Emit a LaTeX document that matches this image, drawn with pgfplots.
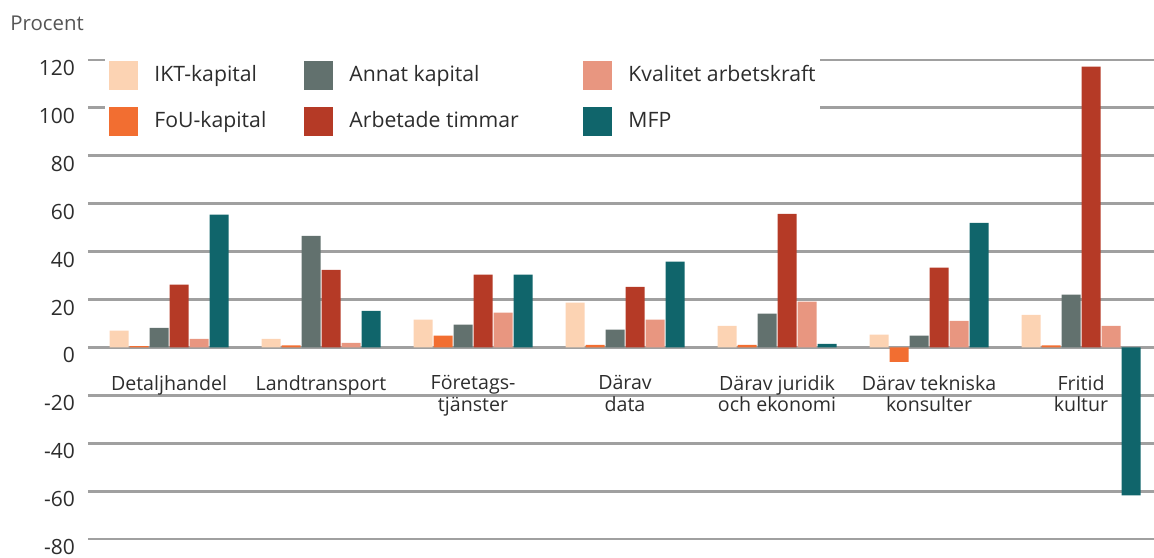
\documentclass[border=0pt]{standalone}
\usepackage{pgfplots}
\pgfplotsset{compat=1.18}
\usepackage{fontspec}
\setmainfont{Open Sans}
\definecolor{ikt}{RGB}{252,211,179}
\definecolor{fou}{RGB}{242,110,49}
\definecolor{annat}{RGB}{98,113,110}
\definecolor{arb}{RGB}{181,58,38}
\definecolor{kval}{RGB}{232,150,128}
\definecolor{mfp}{RGB}{16,101,107}
\definecolor{gridc}{RGB}{160,160,160}
\definecolor{textc}{RGB}{45,45,45}
\definecolor{labc}{RGB}{85,85,85}
\begin{document}
\begin{tikzpicture}
\begin{axis}[
  name=ax,
  scale only axis, width=533pt, height=239.5pt,
  xmin=-0.533, xmax=6.48, ymin=-80, ymax=120,
  ytick={-80,-60,...,120},
  ymajorgrids,
  major grid style={color=gridc, line width=1.4pt},
  axis x line*=middle, axis y line*=left,
  axis line style={draw=none},
  major tick length=0pt,
  xtick={0,...,6},
  xticklabels={Detaljhandel, Landtransport, {Företags-\\tjänster}, {Därav\\data}, {Därav juridik\\och ekonomi}, {Därav tekniska\\konsulter}, {Fritid\\kultur}},
  xticklabel style={align=center, font=\fontsize{9.8}{10.8}\selectfont, text=textc, anchor=north, yshift=-10.5pt},
  yticklabel style={font=\fontsize{10.5}{12}\selectfont, text=textc, yshift=-4pt, xshift=-3pt},
  /pgf/number format/assume math mode=true,
  ybar=0.5pt, bar width=9.5pt,
  legend columns=3,
  legend style={at={(rel axis cs:0.016,1.008)}, anchor=north west, draw=none, fill=white,
    inner sep=2pt, row sep=8.5pt, column sep=0pt,
    font=\fontsize{10.6}{12}\selectfont, text=textc, nodes={inner sep=0pt}},
  legend cell align=left,
  legend image code/.code={\fill[#1,draw=none] (0pt,-7.25pt) rectangle (14.5pt,7.25pt);},
]
\addplot[fill=ikt, draw=none, bar shift=-25pt] coordinates {(0,7.0) (1,3.6) (2,11.6) (3,18.7) (4,9.0) (5,5.3) (6,13.6)};
\addlegendentry{\hspace*{8pt}\makebox[75pt][l]{IKT-kapital}}
\addplot[fill=annat, draw=none, bar shift=-5pt] coordinates {(0,8.2) (1,46.6) (2,9.5) (3,7.4) (4,14.1) (5,4.9) (6,22.0)};
\addlegendentry{\hspace*{8pt}\makebox[117pt][l]{Annat kapital}}
\addplot[fill=kval, draw=none, bar shift=15pt] coordinates {(0,3.6) (1,1.9) (2,14.5) (3,11.6) (4,19.1) (5,11.1) (6,9.0)};
\addlegendentry{\hspace*{8pt}Kvalitet arbetskraft}
\addplot[fill=fou, draw=none, bar shift=-15pt] coordinates {(0,0.5) (1,0.8) (2,4.9) (3,1.1) (4,1.1) (5,-6.0) (6,0.8)};
\addlegendentry{\hspace*{8pt}\makebox[75pt][l]{FoU-kapital}}
\addplot[fill=arb, draw=none, bar shift=5pt] coordinates {(0,26.2) (1,32.4) (2,30.4) (3,25.3) (4,55.8) (5,33.3) (6,117.2)};
\addlegendentry{\hspace*{8pt}\makebox[117pt][l]{Arbetade timmar}}
\addplot[fill=mfp, draw=none, bar shift=25pt] coordinates {(0,55.4) (1,15.3) (2,30.4) (3,35.8) (4,1.5) (5,52.0) (6,-61.8)};
\addlegendentry{\hspace*{8pt}MFP}
\end{axis}
\node[anchor=west, font=\fontsize{10.2}{11}\selectfont, text=labc, inner sep=0pt] at ([shift={(-39pt,18.5pt)}]ax.north west) {Procent};
\pgfresetboundingbox
\path[use as bounding box] ([shift={(-44pt,-9pt)}]ax.south west) rectangle ([shift={(0pt,30pt)}]ax.north east);
\end{tikzpicture}
\end{document}
